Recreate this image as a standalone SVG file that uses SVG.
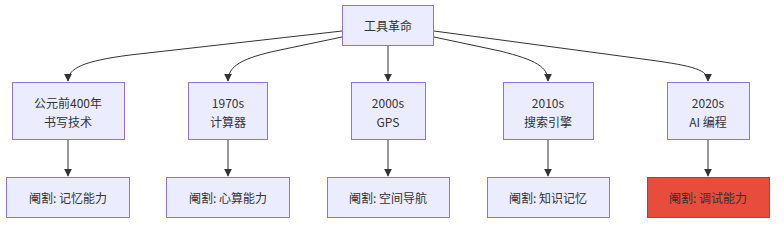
<svg xmlns="http://www.w3.org/2000/svg" width="784" height="226" viewBox="0 0 784 226">
<defs>
<style>
.n rect{fill:#ECECFF;stroke:#9370DB;stroke-width:1}
.n.red rect{fill:#E74C3C;stroke:#C0392B}
text{font-family:"Noto Sans CJK SC","Liberation Sans",sans-serif;font-size:12px;fill:#333;text-anchor:middle;dominant-baseline:central}
.e path{fill:none;stroke:#333;stroke-width:1}
</style>
<marker id="ah" viewBox="0 0 10 10" refX="9" refY="5" markerWidth="8" markerHeight="8" markerUnits="userSpaceOnUse" orient="auto">
<path d="M0,0 L10,5 L0,10 z" fill="#333"/>
</marker>
</defs>
<rect width="784" height="226" fill="#fff"/>
<g id="edges" class="e">
<path d="M342,31 L130,55 C84,61 68,68 68,81" marker-end="url(#ah)"/>
<path d="M342,37 L280,50 C242,58 228,66 228,81" marker-end="url(#ah)"/>
<path d="M388,45 L388,81" marker-end="url(#ah)"/>
<path d="M434,37 L500,51 C536,60 548,67 548,81" marker-end="url(#ah)"/>
<path d="M434,31 L650,60 C694,66 708,70 708,81" marker-end="url(#ah)"/>
<path d="M68,140 L68,176" marker-end="url(#ah)"/>
<path d="M228,140 L228,176" marker-end="url(#ah)"/>
<path d="M388,140 L388,176" marker-end="url(#ah)"/>
<path d="M548,140 L548,176" marker-end="url(#ah)"/>
<path d="M708,140 L708,176" marker-end="url(#ah)"/>
</g>
<g id="root" class="n"><rect x="342.5" y="5.5" width="91" height="40"/><text x="388" y="25">工具革命</text></g>
<g id="t1" class="n"><rect x="12.5" y="82.5" width="112" height="57"/><text x="68" y="102">公元前400年</text><text x="68" y="121">书写技术</text></g>
<g id="t2" class="n"><rect x="188.5" y="82.5" width="79" height="57"/><text x="228" y="102">1970s</text><text x="228" y="121">计算器</text></g>
<g id="t3" class="n"><rect x="351.5" y="82.5" width="74" height="57"/><text x="388" y="102">2000s</text><text x="388" y="121">GPS</text></g>
<g id="t4" class="n"><rect x="503.5" y="82.5" width="90" height="57"/><text x="548" y="102">2010s</text><text x="548" y="121">搜索引擎</text></g>
<g id="t5" class="n"><rect x="667.5" y="82.5" width="82" height="57"/><text x="708" y="102">2020s</text><text x="708" y="121">AI 编程</text></g>
<g id="c1" class="n"><rect x="6.5" y="177.5" width="123" height="40"/><text x="68" y="197">阉割: 记忆能力</text></g>
<g id="c2" class="n"><rect x="166.5" y="177.5" width="123" height="40"/><text x="228" y="197">阉割: 心算能力</text></g>
<g id="c3" class="n"><rect x="327.5" y="177.5" width="122" height="40"/><text x="388" y="197">阉割: 空间导航</text></g>
<g id="c4" class="n"><rect x="487.5" y="177.5" width="122" height="40"/><text x="548" y="197">阉割: 知识记忆</text></g>
<g id="c5" class="n red"><rect x="647.5" y="177.5" width="122" height="40"/><text x="708" y="197">阉割: 调试能力</text></g>
</svg>
